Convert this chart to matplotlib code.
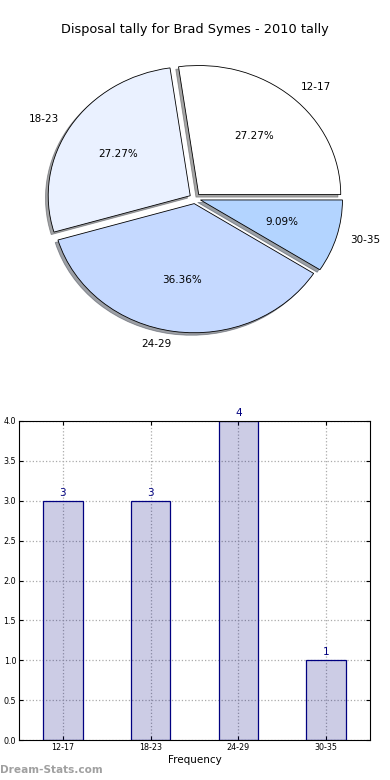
import matplotlib
matplotlib.use("Agg")
import matplotlib.pyplot as plt

# ---------------------------------------------------------------------------
# Data
# ---------------------------------------------------------------------------
AGE_GROUPS = ["12-17", "18-23", "24-29", "30-35"]
TALLY = [3, 3, 4, 1]
PIE_COLORS = ["#FFFFFF", "#EAF1FF", "#C5D9FF", "#B3D4FF"]
TITLE = "Disposal tally for Brad Symes - 2010 tally"


def plot_pie(ax):
    ax.pie(
        TALLY,
        labels=AGE_GROUPS,
        colors=PIE_COLORS,
        explode=[0.04] * len(TALLY),
        autopct="%1.2f%%",
        shadow={"ox": -0.014, "oy": -0.014},
        startangle=0,
        counterclock=True,
        labeldistance=1.1,
        wedgeprops=dict(edgecolor="black", linewidth=0.6),
        textprops=dict(fontsize=7.5),
    )
    ax.set_aspect("auto")
    ax.set_xlim(-1.25, 1.25)
    ax.set_ylim(-1.15, 1.15)
    ax.axis("off")


def plot_bars(ax):
    xs = range(len(TALLY))
    bars = ax.bar(xs, TALLY, width=0.45, color=(0, 0, 0.5, 0.2),
                  edgecolor="navy", linewidth=0.9)
    for bar, val in zip(bars, TALLY):
        ax.text(bar.get_x() + bar.get_width() / 2, val + 0.04, f"{val}",
                ha="center", va="bottom", fontsize=7.5, color="navy")
    ax.set_xticks(list(xs))
    ax.set_xticklabels(AGE_GROUPS)
    ax.set_xlim(-0.5, 3.5)
    ax.set_ylim(0, 4.0)
    ax.set_yticks([i * 0.5 for i in range(9)])
    ax.tick_params(labelsize=5.8, direction="in", top=True, right=True,
                   length=3, pad=2)
    ax.grid(True, linestyle=":", color="#AAAAAA", linewidth=0.9)
    ax.set_axisbelow(True)
    ax.set_xlabel("Frequency", fontsize=7.5, labelpad=2.5)


def main():
    fig = plt.figure(figsize=(3.9, 7.8), dpi=100)
    fig.text(0.5, 1 - 30 / 780, TITLE, ha="center", va="center", fontsize=9.3)

    ax_pie = fig.add_axes([17.5 / 390, 433 / 780, 355 / 390, 297 / 780])
    plot_pie(ax_pie)

    ax_bar = fig.add_axes([19 / 390, 40 / 780, 351 / 390, 319 / 780])
    plot_bars(ax_bar)

    fig.text(0.0, 10 / 780, "Dream-Stats.com", ha="left", va="center",
             fontsize=7.6, fontweight="bold", color="#A0A0A0")

    fig.savefig("out.png", dpi=100)


if __name__ == "__main__":
    main()
